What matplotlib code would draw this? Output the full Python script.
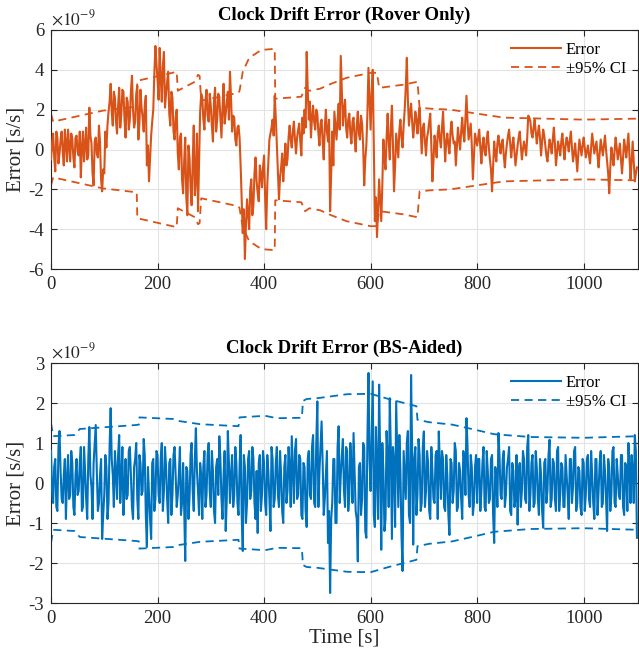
import numpy as np
import matplotlib
matplotlib.use("Agg")
import matplotlib.pyplot as plt

# ---------------- data (units of 1e-9 s/s) ----------------
# samples at t = 0, 4, 8, ... , 1100
t_step = 4
rover_err = [
    -0.5, 0.8, -1.1, 0.6, -0.2, 0.9, -0.8, 0.3, 1.0, -0.6, 0.5, -0.9, 0.7, -0.3, -1.4, 0.9, 0.2, -0.5, 2.1, 0.3, -1.8, 0.6, -0.4, 0.4, -2.1,
    -1.2, 0.1, 1.9, 3.3, 1.2, 2.6, 0.8, 3.1, 1.8, 2.9, 0.6, 2.4, 1.5, 3.7, 1.1, 2.8, 0.5, 3.0, 1.6, 2.2, -0.8, -1.6, 0.7, 2.0, 5.2,
    3.5, 5.1, 2.4, 4.9, 2.8, 3.9, 1.2, 2.6, 0.5, 2.0, -1.0, 0.8, -2.2, 0.6, -3.3, -0.4, -2.8, 1.2, -1.5, -3.1, 1.9, 2.6, 1.0, 3.0, 1.4,
    2.2, 0.4, 3.1, 1.5, 2.6, 0.6, 3.3, 1.8, 2.9, 3.9, 0.9, 1.6, 0.2, 1.2, -0.8, -4.2, -5.5, -2.5, -4.0, -1.5, -2.8, -0.4, -2.2, -0.8, -1.9,
    -0.3, -4.0, -0.6, 0.8, 1.5, 2.7, 0.2, -2.5, -0.9, -1.6, 0.3, -0.5, 1.2, 0.1, 1.4, -0.2, 1.0, 0.4, 1.6, 2.0, 4.9, 1.5, 0.6, 2.2, 1.0,
    1.8, 0.2, 1.5, -0.5, 2.0, 0.4, -3.1, 0.9, 1.9, 0.5, 2.3, 4.7, 1.2, 2.5, 0.6, 1.8, 0.3, 1.6, -0.1, 1.9, 0.5, 1.3, -1.8, 0.2, 4.1,
    1.0, 4.0, -3.6, -4.4, -1.5, -3.6, 0.5, -1.0, 1.8, -0.5, 2.2, -2.1, 0.8, -0.4, 1.5, 0.1, 2.0, 4.6, 1.2, 2.3, 0.6, 1.9, 0.8, 2.1, -0.2,
    1.3, -0.3, 0.9, 1.8, -1.6, 0.7, -0.4, 1.2, 0.1, 1.9, -0.6, 0.8, -0.2, 1.4, 0.3, -0.8, 1.1, 0.0, 1.6, 0.4, 2.7, 0.5, 1.3, -1.5, 0.8,
    0.2, 1.0, -0.7, 0.6, -0.3, 0.9, -0.5, -2.1, 0.4, -0.6, 0.7, -0.2, 0.5, -0.9, 0.3, 1.0, -0.4, 0.6, -0.8, 0.2, 0.9, -0.5, 0.4, -0.3, 1.7,
    1.4, 0.6, 1.5, 0.3, 1.2, -0.3, 1.0, 0.2, -0.6, 0.5, -0.2, 1.1, -0.8, 0.4, -0.3, 0.8, -0.5, 0.6, -0.1, 0.9, -0.6, 0.3, -1.1, 0.5, -0.3,
    0.6, -0.4, 0.2, -0.7, 0.8, -0.2, 0.4, -0.9, 0.5, -0.3, 0.7, -0.6, -2.2, 0.1, -0.8, 0.6, -0.5, 0.3, -1.2, 0.5, -0.4, 0.8, -1.5, 0.4, -1.6,
    -0.9,
]
# samples at t = 2, 6, 10, ... , 1098
rover_err_mid = [
    0.3, -0.4, 0.9, -0.7, 0.5, -0.1, 1.0, -0.6, 0.2, 0.8, -0.4, 0.6, -0.1, 0.9, 0.1, -0.6, 1.1, -0.3, 0.7, -1.2, 0.4, -0.2, 1.2, -1.5, -1.0,
    0.9, 1.2, 2.4, 1.9, 2.9, 1.4, 2.2, 1.1, 3.0, 1.5, 2.6, 1.0, 2.9, 2.0, 1.4, 3.2, 1.3, 2.1, 0.9, 2.7, 0.2, -0.5, 1.4, 3.8, 4.3,
    2.5, 3.6, 4.2, 2.1, 3.4, 1.8, 2.9, 0.9, 1.6, -0.2, 0.6, -1.5, -0.6, -2.4, 0.2, -1.9, -0.6, -2.3, 0.8, -0.5, 2.8, 1.5, 2.4, 1.7, 2.8,
    1.2, 2.4, 0.9, 2.8, 1.6, 2.1, 1.3, 2.4, 1.5, 2.6, 1.7, 0.5, 1.1, 0.6, -2.5, -3.0, -3.8, -3.2, -2.0, -3.3, -1.2, -1.6, -2.6, -1.2, -0.9,
    -2.4, -1.8, 0.5, 1.1, 0.7, 1.6, -1.2, -1.4, -0.2, -0.7, -0.8, 0.6, 0.5, 0.9, 0.5, 0.6, 1.3, -0.3, 0.8, 1.1, 3.0, 2.4, 1.6, 1.4, 2.0,
    0.8, 1.3, 0.4, 1.1, 0.9, 1.5, -1.2, -0.8, 1.2, 1.5, 1.0, 3.0, 2.0, 1.1, 1.5, 0.8, 1.4, 0.6, 1.2, 0.8, 1.7, 0.2, -0.5, 1.8, 2.5,
    2.8, 0.2, -2.4, -3.0, -2.6, -1.8, -0.4, 0.6, 0.4, 1.1, 0.2, -0.8, 0.2, 1.0, 0.6, 1.2, 3.1, 2.5, 1.8, 1.4, 1.2, 1.5, 1.6, 0.9, 1.1,
    0.4, 0.6, 1.4, 0.2, -0.6, 0.3, 0.8, 0.5, 1.1, 0.6, 0.4, 0.2, 0.9, 0.7, 0.4, 0.2, 0.5, 0.9, 0.8, 1.5, 1.4, 0.9, 0.2, -0.4, 0.5,
    0.6, 0.1, 0.2, -0.1, 0.5, 0.1, -1.0, -0.8, -0.2, 0.3, 0.2, 0.3, -0.3, -0.2, 0.7, 0.3, 0.2, -0.1, -0.3, 0.6, 0.2, 0.0, 0.1, 0.6, 1.6,
    0.8, 1.1, 0.9, 0.8, 0.6, 0.4, 0.7, -0.3, 0.0, 0.2, 0.5, 0.3, -0.2, 0.1, 0.4, 0.1, 0.2, 0.3, 0.5, 0.1, -0.2, -0.4, -0.2, 0.1, 0.2,
    0.1, -0.1, -0.3, 0.1, 0.3, 0.1, -0.3, -0.2, 0.1, 0.2, 0.0, -1.2, -0.9, -0.3, -0.1, 0.1, -0.1, -0.5, -0.4, 0.1, 0.2, -0.4, -0.6, -0.6, -1.2,
]
bs_err = [
    0.8, -0.5, 0.6, -0.7, 1.3, -0.4, 0.2, -0.9, 0.7, -0.3, 0.5, -0.8, 0.6, -0.2, 0.9, -0.6, 0.3, -0.9, 1.4, -0.1, 0.5, 1.45, -0.7, 0.2, -1.4,
    -0.3, 0.4, -0.5, 1.87, 0.2, 0.8, -0.4, 1.2, 0.1, -0.8, 0.6, -0.3, 0.9, -0.6, 0.4, 1.0, -0.9, 0.5, -0.2, 0.7, -1.6, -0.3, -1.4, 0.6, -0.4,
    0.7, -0.5, 1.0, -0.2, 0.4, -1.0, 0.6, -0.3, 0.9, -0.6, 0.2, -0.8, 0.5, -1.95, 0.3, -0.4, 1.0, -0.7, 1.37, -0.2, 0.5, -0.9, 0.8, -0.3, 1.0,
    -0.6, 0.3, -1.0, 0.6, 1.17, -0.4, 0.2, -1.2, 1.3, -0.5, 0.7, -0.3, 0.5, -0.8, 1.2, -1.7, 0.4, -0.5, 0.8, -0.2, 0.6, -0.9, -1.25, 0.7, -0.3,
    0.5, -0.8, 0.3, -1.2, 0.6, -0.4, 0.9, -0.6, 0.2, -1.0, 0.7, -0.2, 0.4, 1.17, -0.5, 1.1, -0.3, 0.6, -0.9, 0.4, -1.1, 0.8, -0.4, 1.2, -0.6,
    2.04, 0.3, 1.54, -0.8, 0.2, -1.5, -2.75, -0.5, 0.6, -1.0, 1.42, 0.2, 1.1, -0.6, 0.8, -0.3, 0.4, 1.25, -0.7, -1.96, 0.5, -0.4, 0.9, -1.37, 2.75,
    -0.2, 2.54, -1.1, 0.4, 2.46, -1.67, 0.3, -0.9, 0.6, 2.12, -1.4, 0.5, 2.04, -0.6, 0.3, -2.2, 0.2, 1.0, -0.8, 2.7, -1.54, 0.9, -0.3, 0.7, -0.5,
    1.29, -0.2, 0.5, -0.9, 0.3, -0.5, 0.8, 1.29, -0.4, 0.6, -0.7, 0.2, -1.3, 0.5, -0.2, 0.8, -0.6, 0.3, -0.9, 0.6, 1.62, -0.3, 0.7, -0.8, 0.4,
    -0.5, 0.6, -0.2, 0.9, -0.7, 0.3, -0.4, 0.7, -1.5, 0.2, 1.25, -0.3, 0.6, -0.6, 0.4, 0.9, -0.8, 0.3, -0.4, -1.04, 0.5, -0.2, 0.6, -0.5, 1.2,
    -0.3, 0.7, -0.5, 0.4, -0.8, 0.2, -1.12, 0.6, -0.2, 1.08, -0.4, 0.5, -0.7, 0.9, -0.3, 0.4, -0.6, 0.2, -0.9, 0.6, -0.1, 0.9, -0.5, 0.3, -0.8,
    0.5, -0.3, 0.7, -0.6, 0.2, -0.9, 0.6, -0.2, 0.8, -0.5, 0.3, -1.2, 0.4, -0.3, 0.9, -0.6, 0.2, -0.4, 0.7, -0.8, 0.4, 1.0, -0.5, 0.3, 1.2,
    -1.37,
]
bs_err_mid = [
    -0.2, 0.4, -0.6, 0.9, 0.3, -0.5, 0.6, 0.1, -0.4, 0.8, -0.6, 0.2, -0.3, 0.5, -0.7, 0.9, -0.4, 0.6, 0.2, -0.9, 1.0, 0.3, -0.5, 0.6, -0.8,
    0.7, -0.9, 0.9, 0.6, -0.6, 0.3, 0.7, -0.5, 0.9, -0.2, -0.4, 0.8, 0.2, -0.9, 0.6, -0.4, 0.7, -0.3, 1.1, -0.8, 0.4, -0.9, 0.5, -0.7, 0.8,
    -0.3, 0.6, -0.7, 0.9, -0.4, 0.5, -0.8, 0.7, 0.2, -0.3, 0.9, -0.5, -0.6, 0.4, -0.9, 0.7, -0.2, 0.6, 0.3, -0.8, 0.2, 0.4, -0.6, 0.7, -0.2,
    0.8, -0.7, 0.4, -0.3, 0.6, -0.9, 0.8, -0.4, 0.5, 0.2, -0.6, 0.9, -0.5, 0.4, -0.8, 0.7, -1.0, 0.6, -0.4, 0.9, -0.5, 0.3, 0.5, -0.7, 0.8,
    -0.5, 0.7, -0.4, 0.9, -0.6, 0.5, -0.3, 0.8, -0.7, 0.4, -0.5, 0.9, -0.6, 0.3, 0.8, -0.4, 0.7, -0.8, 0.5, -0.7, 0.6, -0.3, 0.9, -0.5, 1.0,
    -0.6, 0.9, 0.5, -0.4, 0.8, -0.7, -0.9, 0.6, -1.0, 0.9, -0.5, 0.7, -0.2, 0.9, -0.7, 1.0, -0.5, 0.3, -0.9, 0.4, -0.8, 1.0, -1.2, 1.1, 0.6,
    1.2, -0.8, 1.4, -0.9, 0.6, 1.0, -1.2, 1.3, -0.6, 0.8, 0.9, -1.1, 0.7, 1.2, -1.3, 0.8, -0.4, 1.3, -1.0, 0.8, 0.6, -0.8, 1.1, -0.7, 0.9,
    -0.6, 0.8, -0.7, 0.9, -0.4, 0.7, -0.9, 0.5, 0.8, -0.6, 0.7, -0.8, 0.6, -0.5, 1.0, -0.7, 0.5, -0.4, 0.8, -0.3, 0.9, -0.6, 0.4, -0.5, 0.7,
    0.6, -0.7, 0.5, -0.6, 0.8, -0.5, 0.6, -0.8, 0.4, -0.6, 0.7, -0.4, 0.8, -0.3, 0.6, -0.7, 0.5, -0.6, 0.7, 0.3, -0.6, 0.8, -0.4, 0.9, -0.7,
    0.5, -0.6, 0.8, -0.4, 0.6, -0.7, 0.5, -0.5, 0.7, -0.6, 0.6, -0.4, 0.8, -0.7, 0.5, -0.6, 0.7, -0.3, 0.6, -0.5, 0.8, -0.7, 0.4, -0.6, 0.6,
    -0.7, 0.6, -0.4, 0.8, -0.5, 0.6, -0.8, 0.5, -0.6, 0.7, -0.4, 0.6, -0.7, 0.8, -0.5, 0.6, -0.3, 0.7, -0.6, 0.5, -0.7, 0.4, 0.7, -0.5, 0.8,
]
# 95% CI half-width breakpoints
ci_rover_t = [0, 4, 97, 161, 162, 236, 238, 270, 276, 279, 282, 352, 354, 360, 372, 395, 418, 420, 421, 470, 477, 485, 505, 526, 555, 600, 612, 616, 618, 660, 688, 692, 712, 750, 800, 850, 1000, 1102]
ci_rover_w = [1.8, 1.4, 1.95, 2.15, 3.45, 3.9, 2.95, 3.4, 3.75, 3.7, 2.45, 2.85, 2.95, 3.9, 4.6, 5.0, 5.05, 5.05, 2.55, 2.65, 3.1, 2.95, 3.05, 3.3, 3.6, 3.85, 3.85, 3.1, 3.1, 3.25, 3.4, 2.1, 2.05, 2.0, 1.8, 1.6, 1.5, 1.55]
ci_bs_t = [0, 4, 44, 54, 160, 165, 166, 230, 240, 280, 352, 354, 402, 424, 471, 473, 480, 500, 556, 600, 634, 686, 688, 710, 753, 790, 832, 900, 1000, 1102]
ci_bs_w = [1.5, 1.17, 1.2, 1.35, 1.45, 1.46, 1.64, 1.6, 1.55, 1.47, 1.42, 1.64, 1.68, 1.62, 1.63, 2.05, 2.1, 2.12, 2.22, 2.23, 2.1, 1.92, 1.58, 1.52, 1.46, 1.35, 1.22, 1.15, 1.13, 1.17]

titles = ["Clock Drift Error (Rover Only)", "Clock Drift Error (BS-Aided)"]
colors = ["#D95319", "#0072BD"]
yticks_list = [[-6, -4, -2, 0, 2, 4, 6], [-3, -2, -1, 0, 1, 2, 3]]
xticks = [0, 200, 400, 600, 800, 1000]


def merge(main, mid):
    main = np.asarray(main, float)
    mid = np.asarray(mid, float)
    out = np.empty(len(main) + len(mid))
    out[0::2] = main
    out[1::2] = mid
    return out


# ---------------- plotting ----------------
plt.rcParams['font.family'] = ['Liberation Serif', 'DejaVu Serif']
plt.rcParams['mathtext.fontset'] = 'stix'
plt.rcParams['axes.unicode_minus'] = False

fig = plt.figure(figsize=(6.39, 6.52), dpi=100)
W, H = 639, 652
boxes = [(51, 30, 638, 269), (51, 363, 638, 603)]

series = [merge(rover_err, rover_err_mid), merge(bs_err, bs_err_mid)]
cis = [(ci_rover_t, ci_rover_w), (ci_bs_t, ci_bs_w)]

for i in range(2):
    x0, y0, x1, y1 = boxes[i]
    ax = fig.add_axes([x0 / W, 1 - y1 / H, (x1 - x0) / W, (y1 - y0) / H])
    err = series[i]
    t = np.arange(len(err)) * (t_step / 2)
    ct, cw = np.array(cis[i][0]), np.array(cis[i][1])
    ax.plot(t, err, color=colors[i], lw=1.5, label="Error", zorder=3)
    ax.plot(ct, cw, color=colors[i], lw=1.3, ls=(0, (4.5, 3)), label="\u00b195% CI", zorder=2)
    ax.plot(ct, -cw, color=colors[i], lw=1.3, ls=(0, (4.5, 3)), zorder=2)
    ax.set_xlim(0, 1102)
    yt = yticks_list[i]
    ax.set_ylim(yt[0], yt[-1])
    ax.set_yticks(yt)
    ax.set_xticks(xticks)
    ax.grid(True, color="#E3E3E3", lw=0.8)
    ax.set_axisbelow(True)
    ax.tick_params(direction="in", labelsize=13.5, colors="#262626", length=4, top=True, right=True,
                   labeltop=False, labelright=False, pad=5)
    for sp in ax.spines.values():
        sp.set_color("#262626")
        sp.set_linewidth(0.8)
    ax.set_title(titles[i], fontsize=13.5, fontweight="bold", pad=7)
    ax.set_ylabel("Error [s/s]", fontsize=15, color="#262626", labelpad=2)
    ax.text(0.0, 1.005, r"$\times10^{-9}$", transform=ax.transAxes, fontsize=12.5,
            color="#262626", ha="left", va="bottom")
    ax.legend(loc="upper right", fontsize=12, frameon=False, handlelength=3.0,
              borderaxespad=0.3, labelspacing=0.2, handletextpad=0.3)
    if i == 1:
        ax.set_xlabel("Time [s]", fontsize=15, color="#262626", labelpad=1)

fig.savefig("out.png", dpi=100)
